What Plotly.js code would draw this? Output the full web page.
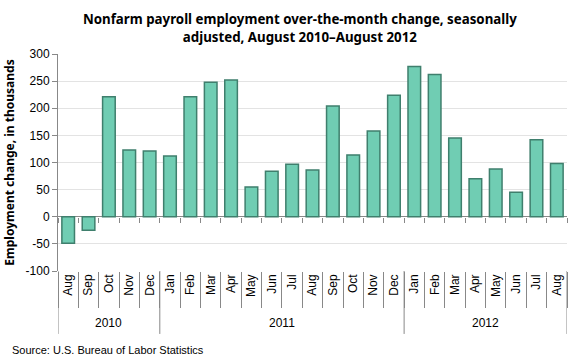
<!DOCTYPE html>
<html><head><meta charset="utf-8">
<script src="https://cdn.plot.ly/plotly-3.0.1.min.js"></script>
<style>html,body{margin:0;padding:0;background:#fff}#chart{width:580px;height:360px}</style>
</head><body><div id="chart"></div>
<script>
const years  = ["2010","2010","2010","2010","2010",
  "2011","2011","2011","2011","2011","2011","2011","2011","2011","2011","2011","2011",
  "2012","2012","2012","2012","2012","2012","2012","2012"];
const months = ["Aug","Sep","Oct","Nov","Dec",
  "Jan","Feb","Mar","Apr","May","Jun","Jul","Aug","Sep","Oct","Nov","Dec",
  "Jan","Feb","Mar","Apr","May","Jun","Jul","Aug"];
const changes = [-49,-25,221,123,121,
  112,221,248,252,55,84,97,86,204,114,158,224,
  277,262,145,70,88,45,142,98];
const yTicks = [-100,-50,0,50,100,150,200,250,300];

const labelFont = {family:"Liberation Sans, Arial, sans-serif", size:12, color:"#000"};
const uniq = months.map((m,i)=>m+" "+years[i]);

// year groups derived from the years array
const groups = [];
years.forEach((y,i)=>{
  if(!groups.length || groups[groups.length-1].year!==y) groups.push({year:y, start:i, end:i});
  else groups[groups.length-1].end = i;
});

const shapes = [];
const bounds = [-0.5].concat(groups.map(g=>g.end+0.5));
bounds.forEach(b=>shapes.push({type:"line", xref:"x", yref:"paper", x0:b, x1:b, y0:0, y1:-0.29,
  line:{color:"#888", width:1}}));

const annotations = groups.map(g=>({text:g.year, xref:"x", yref:"paper",
  x:(g.start+g.end)/2, y:-0.24, xanchor:"center", yanchor:"middle", showarrow:false,
  font:labelFont}));
annotations.push({text:"Source: U.S. Bureau of Labor Statistics", xref:"paper", yref:"paper",
  x:-0.094, y:-0.364, xanchor:"left", yanchor:"middle", showarrow:false,
  font:{family:"Liberation Sans, Arial, sans-serif", size:11, color:"#000"}});

const data = [
  {type:"bar", x:uniq, y:changes, xaxis:"x", yaxis:"y",
   marker:{color:"#70cdb3", line:{color:"#3f7f6d", width:1.5}},
   hoverinfo:"y"},
  {type:"bar", x:uniq, y:changes, xaxis:"x2", yaxis:"y",
   marker:{color:"rgba(0,0,0,0)"}, hoverinfo:"skip", showlegend:false}
];

const layout = {
  width:580, height:360,
  margin:{l:58, r:13, t:54, b:89},
  paper_bgcolor:"#fff", plot_bgcolor:"#fff",
  showlegend:false, bargap:0.38,
  title:{text:"<b>Nonfarm payroll employment over-the-month change, seasonally<br>adjusted, August 2010\u2013August 2012</b>",
    x:0.517, xanchor:"center", yref:"container", y:0.932, yanchor:"middle",
    font:{family:"Noto Sans, sans-serif", size:13.3, color:"#000"}},
  xaxis:{type:"category", categoryorder:"array", categoryarray:uniq,
    range:[-0.5, uniq.length-0.5],
    tickvals:uniq, ticktext:months, tickangle:-90, tickfont:labelFont,
    ticks:"outside", tickson:"boundaries", ticklen:36, tickcolor:"#888",
    showline:false, showgrid:false, zeroline:false},
  xaxis2:{type:"category", overlaying:"x", anchor:"free", position:0.25,
    categoryorder:"array", categoryarray:uniq, range:[-0.5, uniq.length-0.5],
    showticklabels:false, ticks:"outside", tickson:"boundaries", ticklen:5,
    tickcolor:"#888", showline:false, showgrid:false, zeroline:false},
  yaxis:{range:[-100,300], tickvals:yTicks, ticktext:yTicks.map(String),
    tickfont:labelFont, ticks:"outside", ticklen:5, tickcolor:"#888",
    showline:true, linecolor:"#888", linewidth:1,
    showgrid:true, gridcolor:"#e3e3e3", gridwidth:1,
    zeroline:true, zerolinecolor:"#888", zerolinewidth:1,
    title:{text:"<b>Employment change, in thousands</b>", standoff:8,
      font:{family:"Noto Sans, sans-serif", size:12, color:"#000"}}},
  shapes:shapes,
  annotations:annotations
};
Plotly.newPlot("chart", data, layout, {displayModeBar:false, staticPlot:true});
</script></body></html>
